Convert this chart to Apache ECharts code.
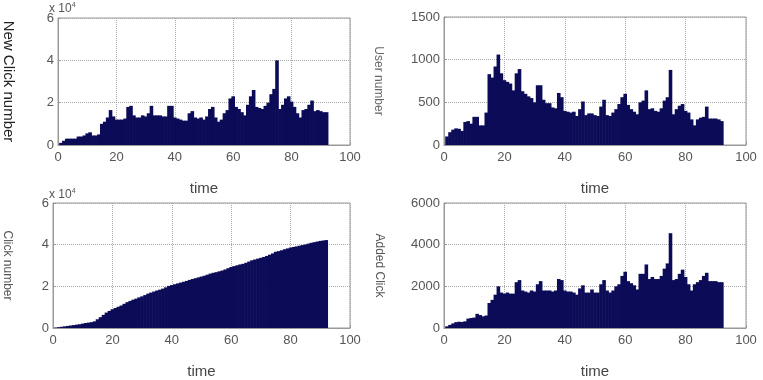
<!DOCTYPE html>
<html>
<head>
<meta charset="utf-8">
<script src="https://cdn.jsdelivr.net/npm/echarts@6/dist/echarts.min.js"></script>
<style>
  html, body { margin: 0; padding: 0; background: #fff; }
  #chart { width: 763px; height: 380px; }
</style>
</head>
<body>
<div id="chart"></div>
<script>
// daily values, day 1..92
const newClick = [
  0.1, 0.2, 0.3, 0.3, 0.3, 0.3, 0.4, 0.4, 0.45, 0.55,
  0.6, 0.45, 0.45, 0.5, 1.0, 1.1, 1.3, 1.65, 1.35, 1.2,
  1.2, 1.2, 1.25, 1.8, 1.85, 1.4, 1.3, 1.3, 1.4, 1.35,
  1.5, 1.85, 1.4, 1.4, 1.4, 1.35, 1.35, 1.85, 1.85, 1.3,
  1.25, 1.2, 1.15, 1.15, 1.5, 1.6, 1.3, 1.25, 1.3, 1.2,
  1.35, 1.7, 1.8, 1.3, 1.1, 1.2, 1.5, 1.65, 2.2, 2.3,
  1.8, 1.7, 1.55, 1.4, 1.9, 2.3, 2.6, 1.8, 1.75, 1.7,
  1.85, 2.0, 2.4, 2.65, 4.0, 1.7, 1.9, 2.2, 2.3, 2.05,
  1.8, 1.5, 1.3, 1.65, 1.7, 1.9, 2.1, 1.6, 1.65, 1.6,
  1.55, 1.55
];

const userNumber = [
  100, 150, 180, 195, 190, 165, 270, 280, 250, 330,
  330, 230, 230, 380, 830, 790, 920, 1060, 840, 760,
  740, 720, 640, 840, 890, 630, 600, 570, 550, 500,
  700, 700, 530, 490, 490, 440, 430, 610, 560, 400,
  390, 380, 390, 340, 420, 510, 350, 370, 370, 350,
  340, 450, 530, 350, 340, 380, 420, 480, 560, 600,
  470, 420, 390, 360, 500, 520, 640, 420, 430, 400,
  390, 430, 520, 560, 880, 360, 420, 460, 480, 400,
  380, 300, 230, 300, 320, 330, 450, 310, 310, 310,
  300, 280
];

const clickNumber = [
  0.02, 0.04, 0.06, 0.08, 0.10, 0.12, 0.14, 0.16, 0.18, 0.21,
  0.24, 0.26, 0.28, 0.32, 0.42, 0.52, 0.63, 0.74, 0.82, 0.90,
  0.96, 1.02, 1.08, 1.16, 1.24, 1.30, 1.36, 1.41, 1.47, 1.52,
  1.58, 1.65, 1.70, 1.75, 1.80, 1.84, 1.89, 1.95, 2.02, 2.06,
  2.10, 2.14, 2.18, 2.22, 2.26, 2.31, 2.35, 2.39, 2.43, 2.47,
  2.51, 2.56, 2.61, 2.65, 2.68, 2.72, 2.76, 2.81, 2.87, 2.93,
  2.97, 3.01, 3.05, 3.08, 3.13, 3.19, 3.25, 3.29, 3.33, 3.37,
  3.41, 3.46, 3.52, 3.58, 3.66, 3.69, 3.73, 3.78, 3.82, 3.86,
  3.89, 3.92, 3.95, 3.98, 4.01, 4.05, 4.09, 4.12, 4.15, 4.18,
  4.20, 4.22
];

const addedClick = [
  80, 150, 220, 280, 300, 290, 320, 450, 480, 500,
  680, 620, 560, 600, 1200, 1350, 1600, 2000, 1700, 1650,
  1700, 1650, 1650, 2200, 2300, 1800, 1750, 1700, 1800, 1750,
  2100, 2250, 1800, 1800, 1800, 1750, 1800, 2350, 2300, 1800,
  1750, 1750, 1700, 1600, 1900, 2050, 1700, 1700, 1850, 1700,
  1700, 2100, 2300, 1800, 1700, 1800, 2000, 2100, 2500, 2700,
  2250, 2150, 2050, 1850, 2600, 2600, 3050, 2350, 2450, 2350,
  2350, 2500, 2850, 3100, 4550, 2300, 2350, 2600, 2800, 2450,
  2100, 1800, 2100, 2200, 2300, 2500, 2650, 2250, 2250, 2250,
  2200, 2200
];

const xTicks = { min: 0, max: 100, interval: 20 };
const yTicksClick = { min: 0, max: 6, interval: 2 };
const yTicksUser = { min: 0, max: 1500, interval: 500 };
const yTicksAdded = { min: 0, max: 6000, interval: 2000 };

const panels = [
  { data: newClick, y: yTicksClick, name: "New Click number",
    grid: { left: 49, top: 18, width: 301, height: 127 }, nameGap: 42,
    nameStyle: { fontSize: 15, color: "#222", padding: [0, 0, 0, 0] } },
  { data: userNumber, y: yTicksUser, name: "User number",
    grid: { left: 444, top: 17, width: 302, height: 128 }, nameGap: 60,
    nameStyle: { fontSize: 12, color: "#666" } },
  { data: clickNumber, y: yTicksClick, name: "Click number",
    grid: { left: 49, top: 203, width: 301, height: 127 }, nameGap: 40,
    nameStyle: { fontSize: 12, color: "#555" } },
  { data: addedClick, y: yTicksAdded, name: "Added Click",
    grid: { left: 444, top: 203, width: 302, height: 126 }, nameGap: 59,
    nameStyle: { fontSize: 12, color: "#555" } }
];

const tickFont = { fontFamily: "Liberation Sans", fontSize: 13, color: "#555" };
const dotted = { lineStyle: { type: "dotted", color: "#aaa", width: 1 } };

const chart = echarts.init(document.getElementById("chart"));
chart.setOption({
  animation: false,
  textStyle: { fontFamily: "Liberation Sans" },
  grid: panels.map(p => Object.assign({
    show: true, borderColor: "#999", borderWidth: 1, containLabel: false
  }, p.grid)),
  xAxis: panels.map((p, i) => ({
    type: "value", gridIndex: i,
    min: xTicks.min, max: xTicks.max, interval: xTicks.interval,
    name: "time", nameLocation: "middle", nameGap: 36,
    nameTextStyle: { fontSize: 15, color: "#444" },
    axisLine: { lineStyle: { color: "#999" } },
    axisTick: { inside: true, length: 3, lineStyle: { color: "#999" } },
    axisLabel: Object.assign({ margin: 6 }, tickFont),
    splitLine: Object.assign({ show: true }, dotted)
  })),
  yAxis: panels.map((p, i) => ({
    type: "value", gridIndex: i,
    min: p.y.min, max: p.y.max, interval: p.y.interval,
    name: p.name, nameLocation: "middle", nameRotate: -90, nameGap: p.nameGap,
    nameTextStyle: p.nameStyle,
    axisLine: { show: true, lineStyle: { color: "#999" } },
    axisTick: { show: true, inside: true, length: 3, lineStyle: { color: "#999" } },
    axisLabel: Object.assign({ margin: 4, formatter: v => String(v) }, tickFont),
    splitLine: Object.assign({ show: true }, dotted)
  })),
  series: panels.map((p, i) => ({
    type: "bar", xAxisIndex: i, yAxisIndex: i,
    barWidth: 3.6,
    data: p.data.map((v, k) => [k + 1, v]),
    itemStyle: { color: "#0b0b58" }
  })),
  graphic: [
    { type: "text", left: 49, top: 2,
      style: { text: "x 10{s|4}", fontSize: 12, fill: "#555",
        rich: { s: { fontSize: 7, verticalAlign: "top", padding: [0, 0, 6, 0] } } } },
    { type: "text", left: 49, top: 188,
      style: { text: "x 10{s|4}", fontSize: 12, fill: "#555",
        rich: { s: { fontSize: 7, verticalAlign: "top", padding: [0, 0, 6, 0] } } } }
  ]
});
</script>
</body>
</html>
